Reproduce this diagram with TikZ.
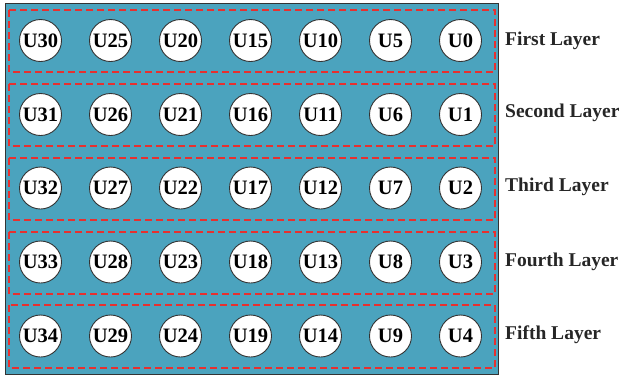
\documentclass[tikz,border=0pt]{standalone}
\usepackage{fontspec}
\setmainfont{Liberation Serif}
\definecolor{panelblue}{HTML}{4BA3BE}
\definecolor{dashred}{HTML}{E8302F}
\definecolor{edgegray}{HTML}{333333}
\begin{document}
\begin{tikzpicture}[x=1pt,y=-1pt,
  unit/.style={circle,draw=edgegray,line width=0.9pt,fill=white,minimum size=42pt,inner sep=0pt,font=\fontsize{20.5}{20.5}\selectfont\bfseries},
  layerbox/.style={draw=dashred,line width=1.4pt,dash pattern=on 7pt off 4pt},
  layerlabel/.style={anchor=west,inner sep=0pt,font=\fontsize{19.5}{19.5}\selectfont\bfseries,text=black!85}]
\useasboundingbox (0,0) rectangle (624,376);
\node[draw=edgegray,line width=1pt,fill=panelblue,minimum width=493pt,minimum height=371pt,inner sep=0pt,anchor=north west] (panel) at (5,2.5) {};
% layer boxes
\draw[layerbox] (9,10) rectangle (495,72);
\draw[layerbox] (9,84) rectangle (495,146);
\draw[layerbox] (9,158) rectangle (495,220);
\draw[layerbox] (9,232) rectangle (495,294);
\draw[layerbox] (9,305) rectangle (495,368);
% row 1
\node[unit] (u30) at (40.5,40.5) {U30};
\node[unit] (u25) at (110.5,40.5) {U25};
\node[unit] (u20) at (180.5,40.5) {U20};
\node[unit] (u15) at (250.5,40.5) {U15};
\node[unit] (u10) at (320.5,40.5) {U10};
\node[unit] (u5) at (390.5,40.5) {U5};
\node[unit] (u0) at (460.5,40.5) {U0};
% row 2
\node[unit] (u31) at (40.5,114.5) {U31};
\node[unit] (u26) at (110.5,114.5) {U26};
\node[unit] (u21) at (180.5,114.5) {U21};
\node[unit] (u16) at (250.5,114.5) {U16};
\node[unit] (u11) at (320.5,114.5) {U11};
\node[unit] (u6) at (390.5,114.5) {U6};
\node[unit] (u1) at (460.5,114.5) {U1};
% row 3
\node[unit] (u32) at (40.5,188) {U32};
\node[unit] (u27) at (110.5,188) {U27};
\node[unit] (u22) at (180.5,188) {U22};
\node[unit] (u17) at (250.5,188) {U17};
\node[unit] (u12) at (320.5,188) {U12};
\node[unit] (u7) at (390.5,188) {U7};
\node[unit] (u2) at (460.5,188) {U2};
% row 4
\node[unit] (u33) at (40.5,262) {U33};
\node[unit] (u28) at (110.5,262) {U28};
\node[unit] (u23) at (180.5,262) {U23};
\node[unit] (u18) at (250.5,262) {U18};
\node[unit] (u13) at (320.5,262) {U13};
\node[unit] (u8) at (390.5,262) {U8};
\node[unit] (u3) at (460.5,262) {U3};
% row 5
\node[unit] (u34) at (40.5,336) {U34};
\node[unit] (u29) at (110.5,336) {U29};
\node[unit] (u24) at (180.5,336) {U24};
\node[unit] (u19) at (250.5,336) {U19};
\node[unit] (u14) at (320.5,336) {U14};
\node[unit] (u9) at (390.5,336) {U9};
\node[unit] (u4) at (460.5,336) {U4};
% labels
\node[layerlabel] (lab1) at (505,40.5) {First Layer};
\node[layerlabel] (lab2) at (505,113) {Second Layer};
\node[layerlabel] (lab3) at (505,187) {Third Layer};
\node[layerlabel] (lab4) at (505,262) {Fourth Layer};
\node[layerlabel] (lab5) at (505,335) {Fifth Layer};
\end{tikzpicture}
\end{document}
